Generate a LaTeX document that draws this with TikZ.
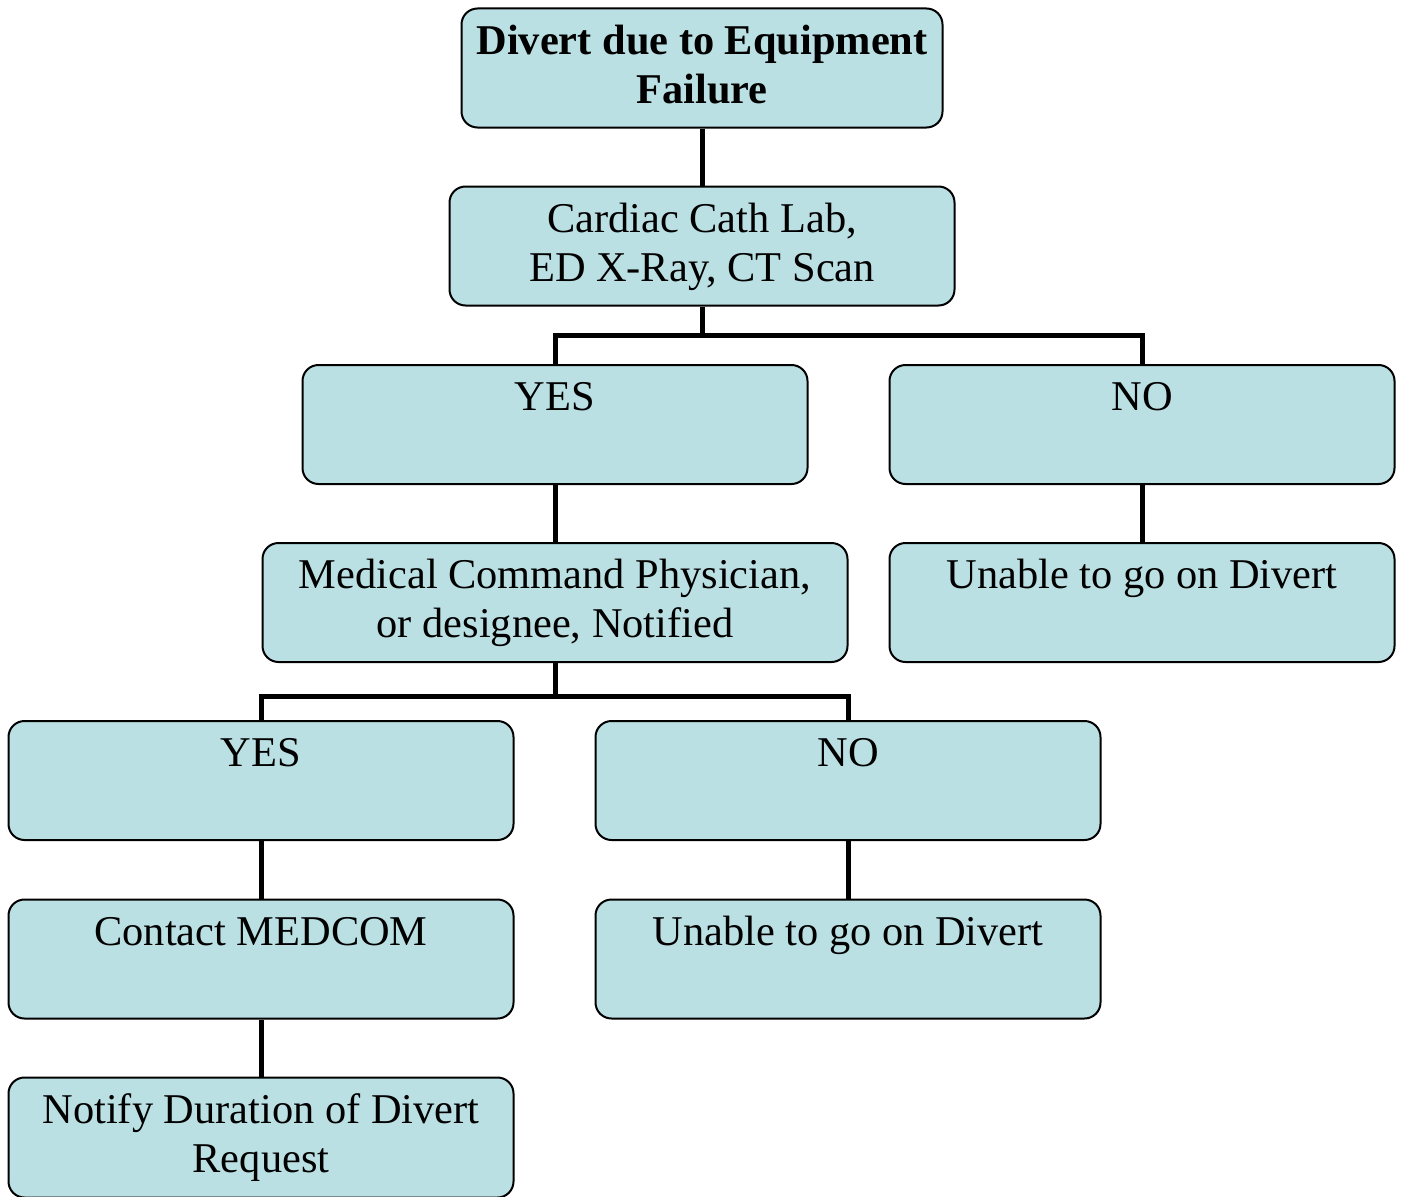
\documentclass[tikz,border=0pt]{standalone}
\usepackage{fontspec}
\setmainfont{Liberation Serif}
\usetikzlibrary{backgrounds}
\definecolor{boxfill}{RGB}{186,224,227}
\tikzset{
  flowbox/.style={draw=black, line width=2pt, fill=boxfill, rounded corners=16pt,
    inner sep=0pt, minimum height=119pt, minimum width=505pt},
  lbl/.style={anchor=north, align=center, inner sep=0pt,
    font=\fontsize{42.4}{49}\selectfont},
  link/.style={line width=5pt, line join=miter},
}
\newcommand\boxline[1]{\strut#1}
\begin{document}
\begin{tikzpicture}[x=1pt, y=-1pt]
  \useasboundingbox (0,0) rectangle (1404,1196);

  % boxes
  \node[flowbox, minimum width=481pt, minimum height=119pt] (title) at (702,68) {};
  \node[flowbox, minimum height=119pt] (cath) at (702,246) {};
  \node[flowbox] (yesA) at (555,424.5) {};
  \node[flowbox] (noA) at (1142,424.5) {};
  \node[flowbox, minimum width=585pt] (medcmd) at (555,602.5) {};
  \node[flowbox] (unableA) at (1142,602.5) {};
  \node[flowbox] (yesB) at (261,780.5) {};
  \node[flowbox] (noB) at (848,780.5) {};
  \node[flowbox, minimum height=119pt] (medcom) at (261,959) {};
  \node[flowbox, minimum height=119pt] (unableB) at (848,959) {};
  \node[flowbox, minimum height=120pt] (notify) at (261,1137.5) {};

  % labels
  \node[lbl, font=\fontsize{42.4}{49}\selectfont\bfseries] (t-title) at (702,20)
    {\boxline{Divert due to Equipment}\\\boxline{Failure}};
  \node[lbl] (t-cath) at (702,198) {\boxline{Cardiac Cath Lab,}\\\boxline{ED X-Ray, CT Scan}};
  \node[lbl] (t-yesA) at (555,376) {\boxline{YES}};
  \node[lbl] (t-noA) at (1142,376) {\boxline{NO}};
  \node[lbl] (t-medcmd) at (555,554) {\boxline{Medical Command Physician,}\\\boxline{or designee, Notified}};
  \node[lbl] (t-unableA) at (1142,554) {\boxline{Unable to go on Divert}};
  \node[lbl] (t-yesB) at (261,732) {\boxline{YES}};
  \node[lbl] (t-noB) at (848,732) {\boxline{NO}};
  \node[lbl] (t-medcom) at (261,911) {\boxline{Contact MEDCOM}};
  \node[lbl] (t-unableB) at (848,911) {\boxline{Unable to go on Divert}};
  \node[lbl] (t-notify) at (261,1089) {\boxline{Notify Duration of Divert}\\\boxline{Request}};

  % connectors
  \coordinate (splitA) at (702,335);
  \coordinate (splitB) at (555,696);
  \begin{scope}[on background layer]
    \draw[link] (title.south) -- (cath.north);
    \draw[link] (cath.south) -- (splitA) -| (yesA.north);
    \draw[link] (splitA) -| (noA.north);
    \draw[link] (yesA.south) -- (medcmd.north);
    \draw[link] (noA.south) -- (unableA.north);
    \draw[link] (medcmd.south) -- (splitB) -| (yesB.north);
    \draw[link] (splitB) -| (noB.north);
    \draw[link] (yesB.south) -- (medcom.north);
    \draw[link] (noB.south) -- (unableB.north);
    \draw[link] (medcom.south) -- (notify.north);
  \end{scope}
\end{tikzpicture}
\end{document}
